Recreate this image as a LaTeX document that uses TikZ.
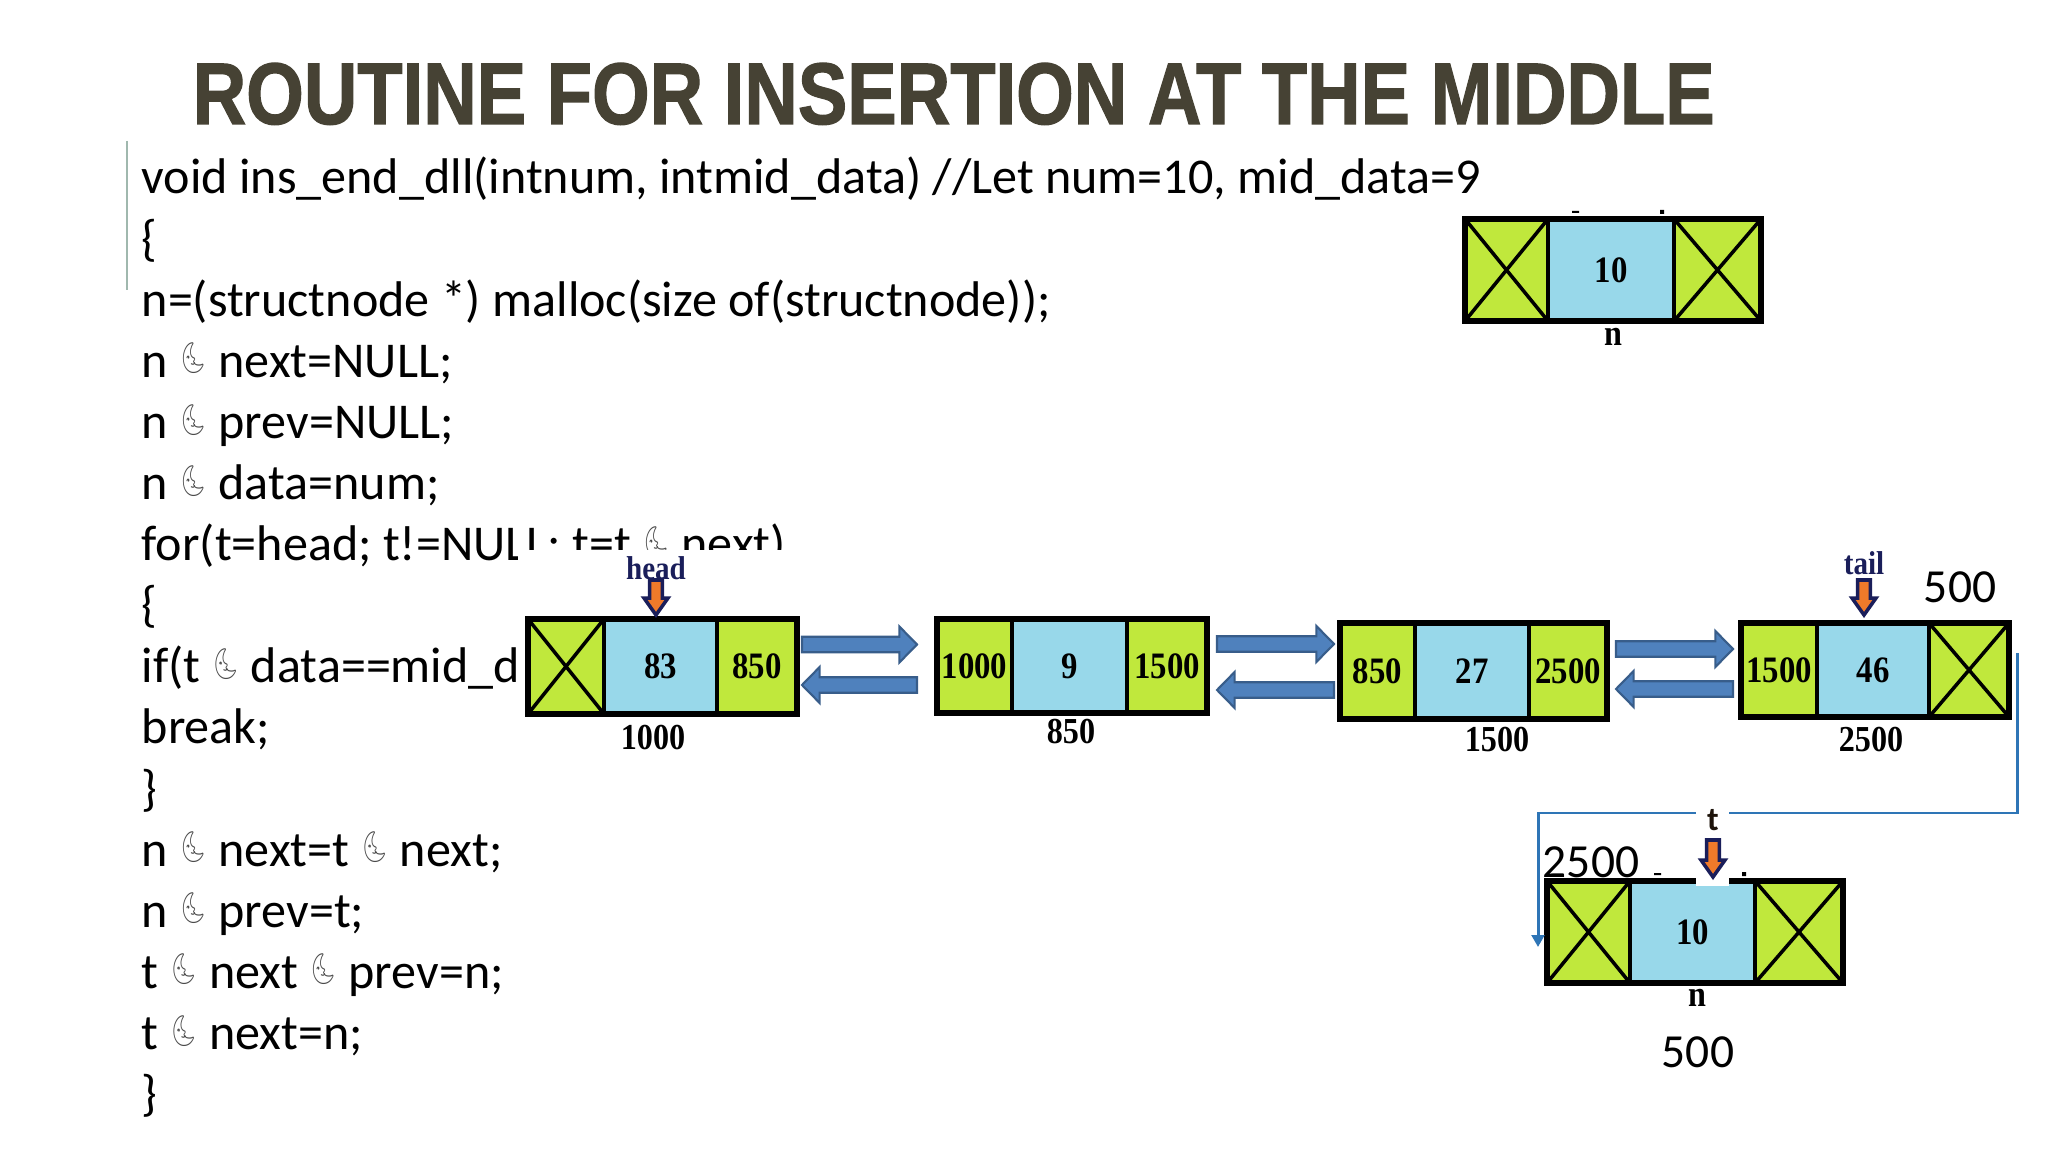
\documentclass[tikz,border=0pt]{standalone}
\usepackage{fontspec}
\setmainfont{Carlito}
\newfontfamily\cellfont{Liberation Serif}[FakeStretch=0.88]
\newfontfamily\headfont{Liberation Sans}[BoldFeatures={FakeBold=1.5}]
\newfontfamily\moonfont{Noto Emoji}
\usetikzlibrary{positioning,arrows.meta,calc}
\definecolor{cTitle}{RGB}{70,66,52}
\definecolor{cRule}{RGB}{160,184,174}
\definecolor{cCell}{RGB}{192,232,60}
\definecolor{cData}{RGB}{152,216,234}
\definecolor{cArrow}{RGB}{79,129,189}
\definecolor{cArrowEdge}{RGB}{56,93,138}
\definecolor{cPtr}{RGB}{240,122,42}
\definecolor{cPtrEdge}{RGB}{26,30,90}
\definecolor{cLink}{RGB}{46,117,182}
\newcommand\ptrsym{\raisebox{.35ex}{\scalebox{.78}[1.08]{\textcolor{black!70}{\moonfont\fontsize{8pt}{8pt}\selectfont 🌜}}}}

\begin{document}
\begin{tikzpicture}[x=0.01cm, y=-0.01cm,
  code/.style={anchor=base west, inner sep=0pt, font=\fontsize{14.25pt}{16pt}\selectfont},
  cell/.style={draw, line width=1.1pt, outer sep=0pt, inner sep=0pt,
    font=\cellfont\bfseries\fontsize{10.6pt}{11pt}\selectfont},
  box/.style={draw, line width=1.8pt},
  cross/.style={line width=1pt},
  addr/.style={inner sep=0pt, font=\cellfont\bfseries\fontsize{10.4pt}{11pt}\selectfont},
  num/.style={inner sep=0pt, font=\fontsize{13.5pt}{15pt}\selectfont},
  ptrlab/.style={inner sep=0pt, text=cPtrEdge, font=\cellfont\bfseries\fontsize{9.4pt}{10pt}\selectfont},
  nextarr/.style={draw=cArrowEdge, fill=cArrow, line width=.6pt,
    to path={let \p1=(\tikztostart), \p2=(\tikztotarget) in
      (\x1,\y1+2.2pt) -- (\x2-5pt,\y1+2.2pt) -- (\x2-5pt,\y1+5.1pt) -- (\x2,\y1)
      -- (\x2-5pt,\y1-5.1pt) -- (\x2-5pt,\y1-2.2pt) -- (\x1,\y1-2.2pt) -- cycle}},
  prevarr/.style={draw=cArrowEdge, fill=cArrow, line width=.6pt,
    to path={let \p1=(\tikztostart), \p2=(\tikztotarget) in
      (\x1,\y1+2.2pt) -- (\x2+5pt,\y1+2.2pt) -- (\x2+5pt,\y1+5.1pt) -- (\x2,\y1)
      -- (\x2+5pt,\y1-5.1pt) -- (\x2+5pt,\y1-2.2pt) -- (\x1,\y1-2.2pt) -- cycle}},
  ptr/.style={draw=cPtrEdge, fill=cPtr, line width=1pt,
    to path={let \p1=(\tikztostart), \p2=(\tikztotarget) in
      (\x1-1.8pt,\y1) -- (\x1+1.8pt,\y1) -- (\x1+1.8pt,\y2+4.8pt) -- (\x1+3.4pt,\y2+4.8pt)
      -- (\x1,\y2) -- (\x1-3.4pt,\y2+4.8pt) -- (\x1-1.8pt,\y2+4.8pt) -- cycle}},
  link/.style={draw=cLink, line width=.85pt, -{Triangle[length=3.4pt,width=3.6pt]}}]

  \fill[white] (0,0) rectangle (2048,1152);
  \useasboundingbox (0,0) rectangle (2048,1152);

  % title
  \node[anchor=base west, inner sep=0pt, text=cTitle] (ttl) at (192,124)
    {\resizebox{15.21cm}{0.61cm}{\headfont\bfseries ROUTINE FOR INSERTION AT THE MIDDLE}};
  \draw[cRule, line width=.6pt] (127,141) -- (127,290);

  % code lines
  \foreach \ln [count=\i from 0] in {
     {void ins\_end\_dll(intnum, intmid\_data) //Let num=10, mid\_data=9},
     {\{},
     {n=(structnode *) malloc(size of(structnode));},
     {n \ptrsym{} next=NULL;},
     {n \ptrsym{} prev=NULL;},
     {n \ptrsym{} data=num;},
     {for(t=head; t!=NULL; t=t \ptrsym{} next)},
     {\{},
     {if(t \ptrsym{} data==mid\_data)},
     {break;},
     {\}},
     {n \ptrsym{} next=t \ptrsym{} next;},
     {n \ptrsym{} prev=t;},
     {t \ptrsym{} next \ptrsym{} prev=n;},
     {t \ptrsym{} next=n;},
     {\}}}
    \node[code] (c\i) at (141,{194+61.1*\i}) {\ln};

  % picture of the list covers the code
  \fill[white] (518,550) rectangle (2048,1152);

  % list nodes
  \foreach \nm/\x/\y/\h/\wa/\wb/\wc/\ta/\tb/\tc/\lab/\lx/\ly in {
     n0/1465/219/102/83/126/87/{}/10/{}/n/1613/337,
     a1/528/619/95/76/113/80/{}/83/850/1000/653/738,
     a2/937/619/94/75/115/80/1000/9/1500/850/1071/732,
     a3/1340/623/96/75/114/78/850/27/2500/1500/1497/740,
     a4/1741/623/94/76/112/80/1500/46/{}/2500/1871/740,
     n1/1547/881/102/83/125/88/{}/10/{}/n/1697/998} {
    \node[cell, fill=cCell, minimum width=\wa*0.01cm, minimum height=\h*0.01cm,
      anchor=north west] (\nm-l) at (\x,\y) {\ta};
    \node[cell, fill=cData, minimum width=\wb*0.01cm, minimum height=\h*0.01cm,
      right=0pt of \nm-l] (\nm-m) {\tb};
    \node[cell, fill=cCell, minimum width=\wc*0.01cm, minimum height=\h*0.01cm,
      right=0pt of \nm-m] (\nm-r) {\tc};
    \draw[box] (\nm-l.north west) rectangle (\nm-r.south east);
    \node[addr] (\nm-adr) at (\lx,\ly) {\lab};
  }
  \foreach \c in {n0-l,n0-r,a1-l,a4-r,n1-l,n1-r}
    \draw[cross] (\c.north west) -- (\c.south east) (\c.north east) -- (\c.south west);

  % next / prev links
  \foreach \u/\v/\gl/\gr in {a1/a2/5/20, a2/a3/10/6, a3/a4/9/8} {
    \draw[nextarr] ($(\u-r.east)+(\gl,-22)$) to ($(\v-l.west)+(-\gr,-22)$);
    \draw[prevarr] ($(\v-l.west)+(-\gr,19)$) to ($(\u-r.east)+(\gl,19)$);
  }

  % head and tail
  \node[ptrlab] (hd) at (656,568) {head};
  \node[ptrlab] (tl) at (1864,563) {tail};
  \draw[ptr] ($(hd)+(0,12)$) to ($(a1-m.north)+(0,-4)$);
  \draw[ptr] ($(tl)+(0,17)$) to ($(a4-m.north)+(0,-8)$);
  \node[num] (tl-adr) at (1960,587) {500};

  % t moves to the new node
  \draw[link] ($(a4-r.east)+(8,-17)$) |- ($(n1-l.west)+(-9,-119)$) -- ($(n1-l.west)+(-9,15)$);
  \fill[white] (1696,806) rectangle (1729,886);
  \node[inner sep=0pt, font=\bfseries\fontsize{9.5pt}{10pt}\selectfont, text=black!85!brown] (tp) at (1713,820) {t};
  \draw[ptr] ($(tp)+(0,20)$) to ($(n1-m.north)+(0,-4)$);
  \node[num] (tp-adr) at (1591,862) {2500};
  \node[num] (n1-num) at (1698,1052) {500};

  % cut marks
  \fill (1572,211) rectangle (1579,213) (1660,210) rectangle (1664,214)
        (1654,873) rectangle (1661,875) (1742,872) rectangle (1746,876);
\end{tikzpicture}
\end{document}
